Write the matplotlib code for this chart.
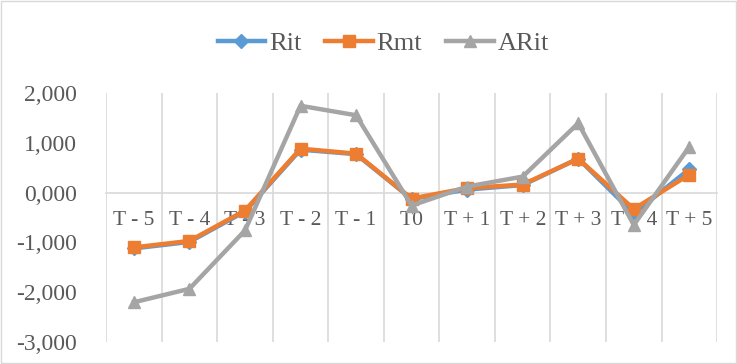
import matplotlib.pyplot as plt
from matplotlib.ticker import FuncFormatter

categories = ["T - 5", "T - 4", "T - 3", "T - 2", "T - 1", "T0",
              "T + 1", "T + 2", "T + 3", "T + 4", "T + 5"]
rit = [-1.12, -0.99, -0.38, 0.86, 0.77, -0.13, 0.06, 0.15, 0.68, -0.42, 0.47]
rmt = [-1.10, -0.97, -0.36, 0.88, 0.78, -0.12, 0.09, 0.16, 0.68, -0.33, 0.36]
arit = [-2.20, -1.93, -0.76, 1.74, 1.55, -0.26, 0.12, 0.32, 1.39, -0.65, 0.92]

plt.rcParams['font.family'] = ['Liberation Serif', 'DejaVu Serif']

fig = plt.figure(figsize=(7.37, 3.64), dpi=100)
ax = fig.add_axes([0.144, 0.060, 0.829, 0.685])

x = list(range(len(categories)))
ax.plot(x, rit, color='#5B9BD5', lw=3.2, marker='D', ms=7, label='Rit', zorder=3)
ax.plot(x, rmt, color='#ED7D31', lw=3.2, marker='s', ms=9, label='Rmt', zorder=4)
ax.plot(x, arit, color='#A5A5A5', lw=3.2, marker='^', ms=9, label='ARit', zorder=5)

ax.set_xlim(-0.5, 10.5)
ax.set_ylim(-3, 2)
ax.set_yticks([-3, -2, -1, 0, 1, 2])
# comma as decimal sign, like the source
ax.yaxis.set_major_formatter(FuncFormatter(lambda v, p: f"{v:.3f}".replace('.', ',')))

ax.set_xticks(x)
ax.set_xticklabels(categories)
ax.set_xticks([i - 0.5 for i in range(len(categories) + 1)], minor=True)
ax.grid(True, which='minor', axis='x', color='#D9D9D9', lw=1.2)
ax.tick_params(axis='x', which='both', length=0, labelsize=15.5, colors='#595959', pad=13)
ax.tick_params(axis='y', length=0, labelsize=17, colors='#595959', pad=21)

for s in ['top', 'right', 'left']:
    ax.spines[s].set_visible(False)
ax.spines['bottom'].set_position(('data', 0))
ax.spines['bottom'].set_color('#D9D9D9')
ax.spines['bottom'].set_linewidth(1.2)
ax.set_axisbelow(True)

leg = ax.legend(loc='center', ncol=3, frameon=False, fontsize=19, handlelength=1.8,
                columnspacing=0.9, handletextpad=0.15, labelcolor='#595959')
leg.set_bbox_to_anchor((0.52, 0.88), transform=fig.transFigure)

fig.patches.append(plt.Rectangle((0.002, 0.003), 0.996, 0.994, transform=fig.transFigure,
                                 fill=False, edgecolor='#D9D9D9', lw=1))

fig.savefig('out.png', dpi=100)
